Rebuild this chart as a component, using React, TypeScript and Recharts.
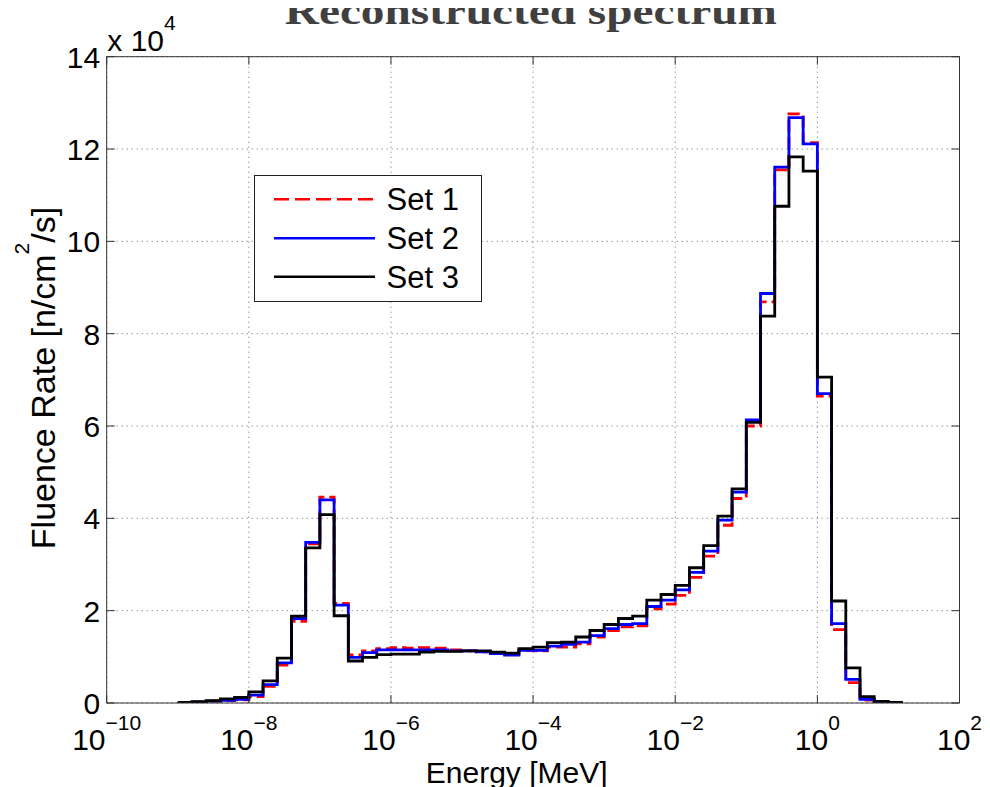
import React from 'react';
import { LineChart, Line, XAxis, YAxis, CartesianGrid, Legend } from 'recharts';

// Bin edges of the spectrum (MeV), 5 bins per decade
const energyEdgesMeV = [
  1e-9, 1.585e-9, 2.512e-9, 3.981e-9, 6.31e-9,
  1e-8, 1.585e-8, 2.512e-8, 3.981e-8, 6.31e-8,
  1e-7, 1.585e-7, 2.512e-7, 3.981e-7, 6.31e-7,
  1e-6, 1.585e-6, 2.512e-6, 3.981e-6, 6.31e-6,
  1e-5, 1.585e-5, 2.512e-5, 3.981e-5, 6.31e-5,
  1e-4, 1.585e-4, 2.512e-4, 3.981e-4, 6.31e-4,
  1e-3, 1.585e-3, 2.512e-3, 3.981e-3, 6.31e-3,
  1e-2, 1.585e-2, 2.512e-2, 3.981e-2, 6.31e-2,
  1e-1, 1.585e-1, 2.512e-1, 3.981e-1, 6.31e-1,
  1, 1.585, 2.512, 3.981, 6.31,
  10, 15.85,
];

// Fluence rate per bin, in units of 10^4 n/cm^2/s
const set1 = [
  0.01, 0.02, 0.04, 0.05, 0.07,
  0.14, 0.36, 0.82, 1.77, 3.45,
  4.46, 2.16, 1.04, 1.13, 1.18,
  1.2, 1.19, 1.2, 1.19, 1.15,
  1.13, 1.11, 1.07, 1.05, 1.14,
  1.13, 1.21, 1.21, 1.28, 1.43,
  1.57, 1.65, 1.67, 2.04, 2.14,
  2.33, 2.72, 3.18, 3.85, 4.43,
  6.0, 8.69, 11.55, 12.76, 12.14,
  6.65, 1.59, 0.44, 0.065, 0.015,
  0.01,
];
const set2 = [
  0.01, 0.02, 0.04, 0.06, 0.08,
  0.17, 0.4, 0.87, 1.83, 3.48,
  4.4, 2.12, 0.99, 1.09, 1.15,
  1.15, 1.15, 1.15, 1.15, 1.13,
  1.13, 1.11, 1.07, 1.04, 1.14,
  1.14, 1.23, 1.27, 1.32, 1.46,
  1.61, 1.7, 1.72, 2.09, 2.23,
  2.45, 2.83, 3.29, 3.96, 4.57,
  6.13, 8.87, 11.61, 12.68, 12.11,
  6.7, 1.72, 0.51, 0.08, 0.015,
  0.01,
];
const set3 = [
  0.015, 0.03, 0.05, 0.09, 0.12,
  0.24, 0.48, 0.97, 1.88, 3.36,
  4.08, 1.89, 0.91, 0.99, 1.05,
  1.06, 1.06, 1.1, 1.12, 1.12,
  1.13, 1.13, 1.1, 1.08, 1.18,
  1.21, 1.31, 1.32, 1.43, 1.57,
  1.7, 1.83, 1.88, 2.23, 2.35,
  2.55, 2.93, 3.41, 4.05, 4.64,
  6.08, 8.38, 10.76, 11.83, 11.52,
  7.06, 2.21, 0.76, 0.14, 0.036,
  0.015,
];

const xTicks = [1e-10, 1e-8, 1e-6, 1e-4, 1e-2, 1, 100];
const yTicks = [0, 2, 4, 6, 8, 10, 12, 14];
const seriesNames = ['Set 1', 'Set 2', 'Set 3'];

const nBins = set1.length;
const data = energyEdgesMeV.map((e, i) => {
  const j = Math.min(i, nBins - 1);
  return { e, s1: set1[j], s2: set2[j], s3: set3[j] };
});

const SANS = '"Liberation Sans", Arial, Helvetica, sans-serif';
const AXIS = '#333';
const W = 974;
const H = 779;
// axes take 1px each; plot area: left 98.7, top 48.7, right 951.5, bottom 695
const M = { top: 47.7, right: 21.5, bottom: 83, left: 97.7 };

const expLabel = (v: number) => {
  const ex = Math.round(Math.log10(v));
  return ex < 0 ? '\u2212' + Math.abs(ex) : String(ex);
};

const BottomTick = (props: any) => {
  const { x, y, payload } = props;
  return (
    <g>
      <line x1={x} x2={x} y1={y} y2={y - 8} stroke={AXIS} strokeWidth={1} />
      <text x={x} y={y + 47} textAnchor="middle" fontFamily={SANS} fontSize={30} fill="#000">
        10
        <tspan dy={-20} fontSize={21}>{expLabel(payload.value)}</tspan>
      </text>
    </g>
  );
};

const TopTick = (props: any) => {
  const { x, y } = props;
  return <line x1={x} x2={x} y1={y} y2={y + 8} stroke={AXIS} strokeWidth={1} />;
};

const LeftTick = (props: any) => {
  const { x, y, payload } = props;
  return (
    <g>
      <line x1={x} x2={x + 8} y1={y} y2={y} stroke={AXIS} strokeWidth={1} />
      <text x={x - 6.5} y={y + 11} textAnchor="end" fontFamily={SANS} fontSize={30} fill="#000">
        {String(payload.value)}
      </text>
    </g>
  );
};

const RightTick = (props: any) => {
  const { x, y } = props;
  return <line x1={x} x2={x - 8} y1={y} y2={y} stroke={AXIS} strokeWidth={1} />;
};

const LegendBox = () => {
  const rows = [
    { name: seriesNames[0], color: '#ff0000', dash: '15 6', cy: 24.3 },
    { name: seriesNames[1], color: '#0000ff', dash: undefined, cy: 63.3 },
    { name: seriesNames[2], color: '#000000', dash: undefined, cy: 101.7 },
  ];
  return (
    <svg width={228} height={127} style={{ display: 'block' }}>
      <rect x={0.5} y={0.5} width={227} height={126} fill="#fff" stroke="#222" strokeWidth={1} />
      {rows.map((r) => (
        <g key={r.name}>
          <line x1={20} x2={121} y1={r.cy} y2={r.cy} stroke={r.color} strokeWidth={2.5} strokeDasharray={r.dash} />
          <text x={132.5} y={r.cy + 11} fontFamily={SANS} fontSize={31} fill="#000">{r.name}</text>
        </g>
      ))}
    </svg>
  );
};

export default function App() {
  return (
    <div style={{ position: 'relative', width: W, height: H, background: '#fff' }}>
      <LineChart width={W} height={H} data={data} margin={M}>
        <CartesianGrid
          xAxisId="bottom"
          yAxisId="left"
          stroke="#666"
          strokeDasharray="1 4"
          strokeWidth={1}
        />
        <Line
          xAxisId="bottom"
          yAxisId="left"
          type="stepAfter"
          dataKey="s1"
          name={seriesNames[0]}
          stroke="#ff0000"
          strokeWidth={2.8}
          strokeDasharray="12 5"
          dot={false}
          activeDot={false}
          isAnimationActive={false}
        />
        <Line
          xAxisId="bottom"
          yAxisId="left"
          type="stepAfter"
          dataKey="s2"
          name={seriesNames[1]}
          stroke="#0000ff"
          strokeWidth={2.8}
          dot={false}
          activeDot={false}
          isAnimationActive={false}
        />
        <Line
          xAxisId="bottom"
          yAxisId="left"
          type="stepAfter"
          dataKey="s3"
          name={seriesNames[2]}
          stroke="#000000"
          strokeWidth={2.8}
          dot={false}
          activeDot={false}
          isAnimationActive={false}
        />
        <XAxis
          xAxisId="bottom"
          dataKey="e"
          type="number"
          scale="log"
          domain={[1e-10, 100]}
          ticks={xTicks}
          interval={0}
          allowDataOverflow
          height={1}
          tickSize={0}
          tickMargin={0}
          tickLine={false}
          axisLine={{ stroke: AXIS, strokeWidth: 1 }}
          tick={<BottomTick />}
        />
        <XAxis
          xAxisId="top"
          orientation="top"
          dataKey="e"
          type="number"
          scale="log"
          domain={[1e-10, 100]}
          ticks={xTicks}
          interval={0}
          allowDataOverflow
          height={1}
          tickSize={0}
          tickMargin={0}
          tickLine={false}
          axisLine={{ stroke: AXIS, strokeWidth: 1 }}
          tick={<TopTick />}
        />
        <YAxis
          yAxisId="left"
          type="number"
          domain={[0, 14]}
          ticks={yTicks}
          interval={0}
          allowDataOverflow
          width={1}
          tickSize={0}
          tickMargin={0}
          tickLine={false}
          axisLine={{ stroke: AXIS, strokeWidth: 1 }}
          tick={<LeftTick />}
        />
        <YAxis
          yAxisId="right"
          orientation="right"
          type="number"
          domain={[0, 14]}
          ticks={yTicks}
          interval={0}
          allowDataOverflow
          width={1}
          tickSize={0}
          tickMargin={0}
          tickLine={false}
          axisLine={{ stroke: AXIS, strokeWidth: 1 }}
          tick={<RightTick />}
        />
        <Legend
          layout="horizontal"
          verticalAlign="middle"
          align="center"
          wrapperStyle={{ position: 'absolute', left: 246, top: 167, width: 228, height: 127 }}
          content={() => <LegendBox />}
        />
      </LineChart>
      <svg
        width={W}
        height={H}
        style={{ position: 'absolute', left: 0, top: 0, pointerEvents: 'none', overflow: 'visible' }}
      >
        <text
          x={522.8}
          y={16}
          textAnchor="middle"
          fontFamily='"Liberation Serif", "Times New Roman", serif'
          fontWeight="bold"
          fontSize={38}
          fill="#404040"
          textLength={492}
          lengthAdjust="spacingAndGlyphs"
        >
          Reconstructed spectrum
        </text>
        <text x={99.3} y={42.7} fontFamily={SANS} fontSize={30} fill="#000">
          x 10
          <tspan dy={-21} fontSize={21}>4</tspan>
        </text>
        <text x={508.7} y={775} textAnchor="middle" fontFamily={SANS} fontSize={30} fill="#000">
          Energy [MeV]
        </text>
        <text
          x={0}
          y={0}
          transform="translate(47,370) rotate(-90)"
          textAnchor="middle"
          fontFamily={SANS}
          fontSize={34}
          fill="#000"
        >
          Fluence Rate [n/cm
          <tspan dy={-26} fontSize={21}>2</tspan>
          <tspan dy={26}>/s]</tspan>
        </text>
      </svg>
    </div>
  );
}
